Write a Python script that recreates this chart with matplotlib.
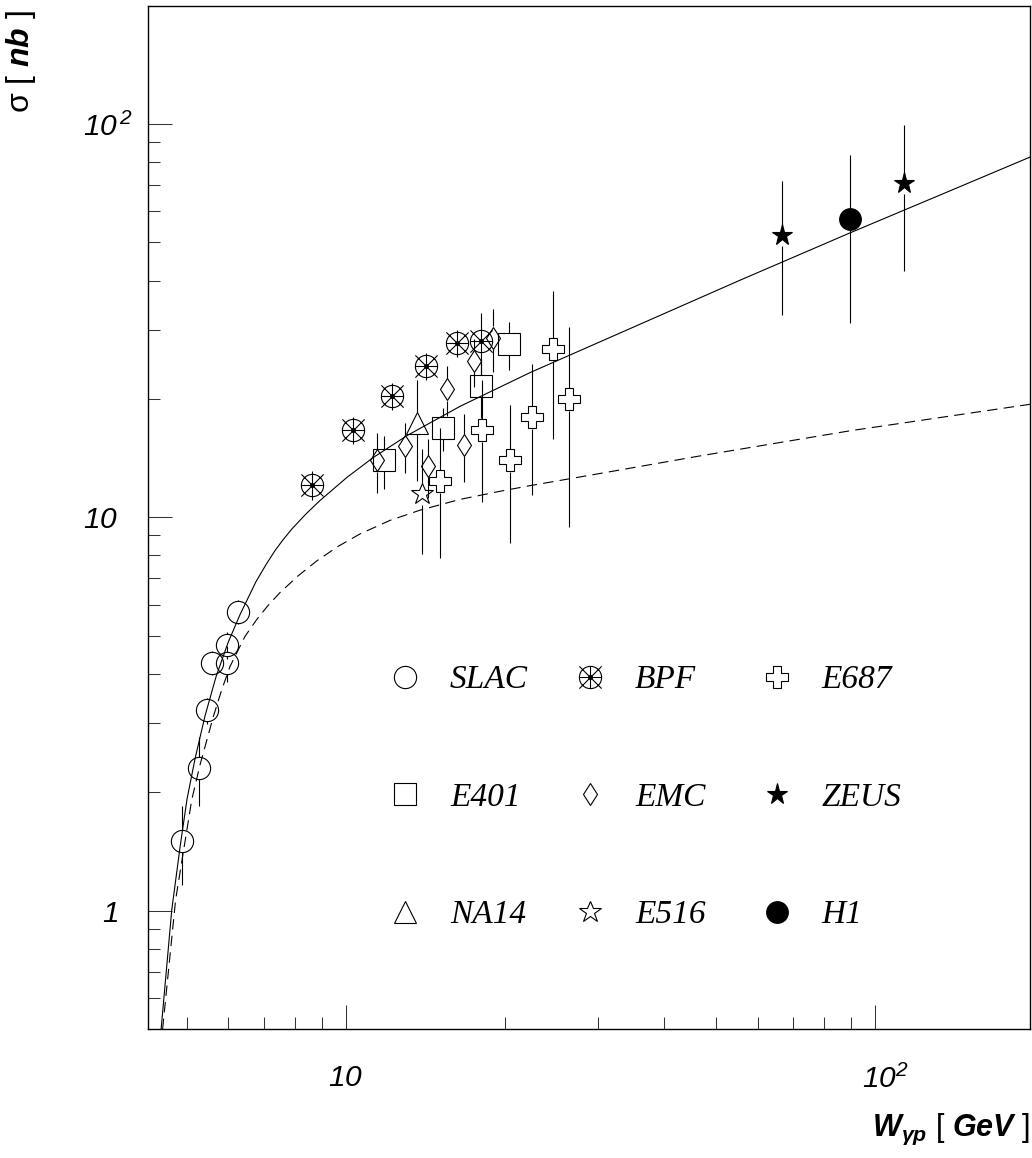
import numpy as np
import matplotlib
matplotlib.use("Agg")
import matplotlib.pyplot as plt
import matplotlib.transforms as mtransforms
from matplotlib.path import Path
from matplotlib.collections import LineCollection
from matplotlib.font_manager import FontProperties
from matplotlib.ticker import FixedLocator, FixedFormatter, NullFormatter

plt.rcParams.update({
    "font.family": ["Liberation Sans", "DejaVu Sans"],
    "mathtext.fontset": "custom",
    # digits fall back to the "rm" face, so make it italic; upright text uses \mathsf
    "mathtext.rm": "Liberation Sans:italic",
    "mathtext.it": "Liberation Sans:italic",
    "mathtext.sf": "Liberation Sans",
    "mathtext.bf": "Liberation Sans:bold",
    "mathtext.bfit": "Liberation Sans:bold:italic",
    "lines.scale_dashes": False,
})

# ---------------- measurements: W [GeV], sigma [nb], error [nb] ----------------
slac_w = [4.91, 5.27, 5.46, 5.59, 5.95, 5.96, 6.25]
slac_s = [1.50, 2.30, 3.23, 4.27, 4.27, 4.73, 5.75]
slac_e = [0.34, 0.46, 0.25, 0.29, 0.45, 0.37, 0.41]

bpf_w = [8.62, 10.33, 12.24, 14.16, 16.20, 17.98]
bpf_s = [12.1, 16.7, 20.4, 24.2, 27.8, 28.1]
bpf_e = [1.0, 1.3, 1.6, 1.9, 2.2, 5.0]

e401_w = [11.82, 15.24, 18.03, 20.37]
e401_s = [13.96, 16.84, 21.57, 27.54]
e401_e = [2.15, 2.1, 3.65, 3.9]

emc_w = [11.47, 12.94, 14.32, 15.51, 16.72, 17.49, 19.00]
emc_s = [13.96, 15.18, 13.50, 21.16, 15.27, 24.98, 28.65]
emc_e = [2.4, 2.2, 2.3, 3.1, 3.0, 3.5, 5.2]

na14_w = [13.65]
na14_s = [17.34]
na14_e = [5.0]

e516_w = [13.95]
e516_s = [11.48]
e516_e = [3.4]

e687_w = [15.07, 18.11, 20.43, 22.51, 24.60, 26.41]
e687_s = [12.36, 16.64, 13.96, 17.99, 26.75, 19.96]
e687_e = [4.5, 5.7, 5.35, 6.6, 10.9, 10.5]

zeus_w = [66.6, 113.4]
zeus_s = [52.2, 70.8]
zeus_e = [19.5, 28.6]

h1_w = [89.6]
h1_s = [57.2]
h1_e = [26.0]

# ---------------- model curves ----------------
solid_w = [4.476, 4.688, 4.861, 5.011, 5.188, 5.419, 5.685, 5.990, 6.310, 6.765,
           7.067, 7.348, 7.608, 7.912, 8.411, 8.938, 10.05, 11.26, 13.05, 16.44,
           22.29, 30.22, 55.58, 89.69, 132.7, 197.0]
solid_s = [0.50, 1.005, 1.454, 1.925, 2.434, 3.131, 3.937, 4.804, 5.661, 6.869,
           7.587, 8.236, 8.769, 9.354, 10.21, 11.04, 12.64, 14.19, 16.14, 19.16,
           23.34, 27.95, 40.09, 52.89, 66.01, 82.6]

dash_w = [4.505, 4.767, 5.114, 5.302, 5.619, 5.828, 6.042, 6.449, 6.785, 7.129,
          7.509, 8.122, 8.810, 9.666, 10.64, 12.12, 13.81, 16.44, 19.56, 22.29,
          30.22, 46.70, 89.69, 197.0]
dash_s = [0.50, 1.065, 1.914, 2.350, 3.119, 3.648, 4.181, 4.984, 5.498, 5.971,
          6.439, 7.098, 7.749, 8.437, 9.078, 9.825, 10.43, 11.11, 11.65, 12.04,
          12.93, 14.33, 16.60, 19.40]

# ---------------- axis ticks ----------------
x_major = [10, 100]
x_major_labels = [r"$10$", r"$10^{2}$"]
x_minor = [5, 6, 7, 8, 9, 20, 30, 40, 50, 60, 70, 80, 90]
y_major = [1, 10, 100]
y_major_labels = [r"$1$", r"$10$", r"$10^{\,2}$"]
y_minor = [0.6, 0.7, 0.8, 0.9, 2, 3, 4, 5, 6, 7, 8, 9, 20, 30, 40, 50, 60, 70, 80, 90]

# ---------------- figure ----------------
W, H = 1032, 1158
fig = plt.figure(figsize=(W / 100, H / 100), dpi=100)
ax = fig.add_axes([147.6 / W, 1 - 1029 / H, 882.8 / W, 1023.3 / H])
ax.set_xscale("log")
ax.set_yscale("log")
ax.set_xlim(4.22, 196.6)
ax.set_ylim(0.5, 200)

for sp in ax.spines.values():
    sp.set_linewidth(1.0)

ax.xaxis.set_major_locator(FixedLocator(x_major))
ax.xaxis.set_major_formatter(FixedFormatter(x_major_labels))
ax.xaxis.set_minor_locator(FixedLocator(x_minor))
ax.xaxis.set_minor_formatter(NullFormatter())
ax.yaxis.set_major_locator(FixedLocator(y_major))
ax.yaxis.set_major_formatter(FixedFormatter(y_major_labels))
ax.yaxis.set_minor_locator(FixedLocator(y_minor))
ax.yaxis.set_minor_formatter(NullFormatter())

ax.tick_params(which="both", direction="in", top=False, right=False, width=0.75, color="#333333")
ax.tick_params(which="major", length=17)
ax.tick_params(which="minor", length=8.6)
ax.tick_params(axis="x", which="major", labelsize=21.5, pad=25.5)
ax.tick_params(axis="y", which="major", labelsize=21.5, pad=21)

# nudge the power-of-ten labels so the mantissa sits on the tick
xt = ax.xaxis.get_major_ticks()
xt[1].label1.set_transform(xt[1].label1.get_transform()
                           + mtransforms.ScaledTranslation(0.10, 0, fig.dpi_scale_trans))
yt = ax.yaxis.get_major_ticks()
yt[2].label1.set_transform(yt[2].label1.get_transform()
                           + mtransforms.ScaledTranslation(0.14, 0, fig.dpi_scale_trans))

ax.set_xlabel(r"$\mathbfit{W}_{\mathbfit{γp}}\mathsf{\ [\ }\mathbfit{GeV}\mathsf{\ ]}$",
              fontsize=22, loc="right")
ax.xaxis.set_label_coords(1.0, -0.081)
ax.set_ylabel(r"$\mathsf{σ\ [\ }\mathbfit{nb}\mathsf{\ ]}$", fontsize=23, loc="top")
ax.yaxis.set_label_coords(-0.124, 0.9958)

# ---------------- marker shapes ----------------
t = np.linspace(0, 2 * np.pi, 73)
bpf_verts = [(np.cos(a), np.sin(a)) for a in t]
bpf_codes = [Path.MOVETO] + [Path.LINETO] * (len(t) - 1)
for p0, p1 in [((-1, 0), (1, 0)), ((0, -1), (0, 1)),
               ((-1, -1), (1, 1)), ((-1, 1), (1, -1))]:
    bpf_verts += [p0, p1]
    bpf_codes += [Path.MOVETO, Path.LINETO]
bpf_marker = Path(bpf_verts, bpf_codes)

MEW = 0.8


def draw_bars(w, s, e, half_px):
    """Vertical error bars that stop at the marker edge."""
    w = np.asarray(w, float)
    s = np.asarray(s, float)
    e = np.asarray(e, float)
    disp = ax.transData.transform(np.column_stack([w, s]))
    inv = ax.transData.inverted()
    up = inv.transform(disp + np.array([0, half_px]))[:, 1]
    dn = inv.transform(disp - np.array([0, half_px]))[:, 1]
    segs = []
    for wi, si, ei, u, d in zip(w, s, e, up, dn):
        if si + ei > u:
            segs.append([(wi, u), (wi, si + ei)])
        if si - ei < d:
            segs.append([(wi, max(si - ei, 1e-3)), (wi, d)])
    ax.add_collection(LineCollection(segs, colors="k", linewidths=0.8, zorder=2))


def draw_points(w, s, e, half_px, **kw):
    draw_bars(w, s, e, half_px)
    (ln,) = ax.plot(w, s, ls="none", mec="k", mew=MEW, zorder=3, **kw)
    return ln


h_slac = draw_points(slac_w, slac_s, slac_e, 11, marker="o", ms=16, mfc="none")
h_bpf = draw_points(bpf_w, bpf_s, bpf_e, 11, marker=bpf_marker, ms=16, mfc="none")
(h_bpf_dot,) = ax.plot(bpf_w, bpf_s, ls="none", marker="o", ms=2.6, color="k", zorder=3)
h_e401 = draw_points(e401_w, e401_s, e401_e, 11, marker="s", ms=15.8, mfc="none")
h_emc = draw_points(emc_w, emc_s, emc_e, 11.3, marker="d", ms=11.5, mfc="none")
h_na14 = draw_points(na14_w, na14_s, na14_e, 11, marker="^", ms=15.8, mfc="none")
h_e516 = draw_points(e516_w, e516_s, e516_e, 11, marker="*", ms=16.5, mfc="none")
h_e687 = draw_points(e687_w, e687_s, e687_e, 11.5, marker="P", ms=16.5, mfc="none")
h_zeus = draw_points(zeus_w, zeus_s, zeus_e, 10.5, marker="*", ms=15.5, mfc="k")
h_h1 = draw_points(h1_w, h1_s, h1_e, 11, marker="o", ms=15.6, mfc="k")

ax.plot(solid_w, solid_s, color="k", lw=0.8, zorder=4)
ax.plot(dash_w, dash_s, color="k", lw=0.8, ls=(0, (7.5, 4.5)), zorder=4)

# ---------------- legend: three columns of three entries ----------------
legend_columns = [
    ([h_slac, h_e401, h_na14], ["SLAC", "E401", "NA14"], 388.3),
    ([(h_bpf, h_bpf_dot), h_emc, h_e516], ["BPF", "EMC", "E516"], 573.3),
    ([h_e687, h_zeus, h_h1], ["E687", "ZEUS", "H1"], 760.0),
]
legend_font = FontProperties(family="Liberation Serif", style="italic", size=24)
for i, (hs, ls, x0) in enumerate(legend_columns):
    leg = ax.legend(hs, ls, loc="upper left",
                    bbox_to_anchor=(x0 / W, 1 - 664.7 / H), bbox_transform=fig.transFigure,
                    frameon=False, prop=legend_font,
                    handlelength=1.0, handletextpad=0.85, labelspacing=2.61,
                    borderpad=0, borderaxespad=0)
    if i < len(legend_columns) - 1:
        ax.add_artist(leg)

fig.savefig("out.png", dpi=100)
